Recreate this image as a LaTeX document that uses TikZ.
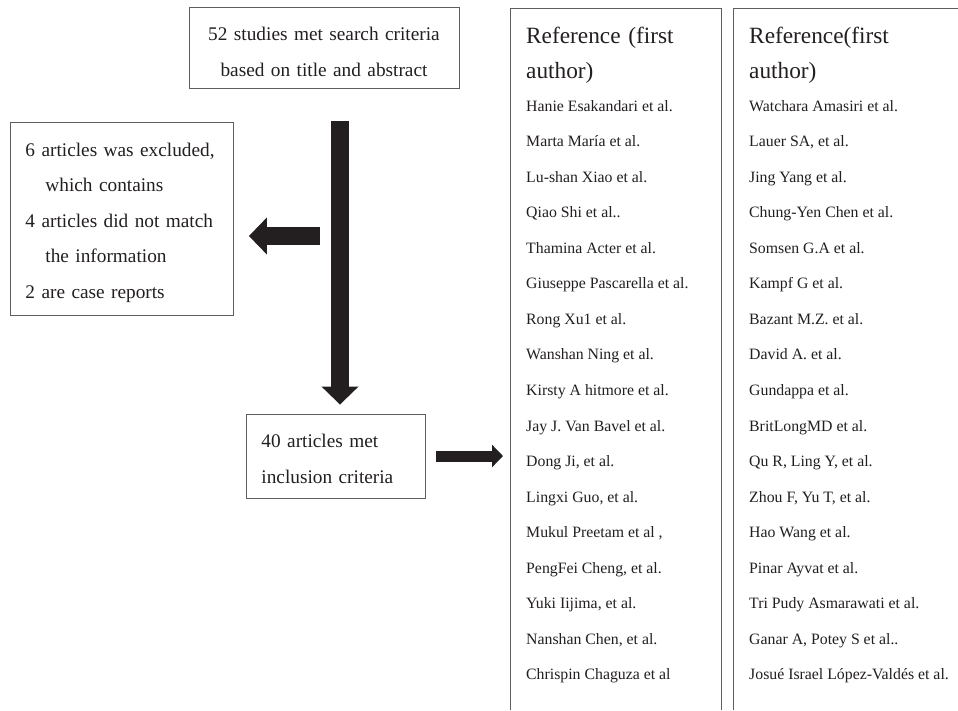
\documentclass[tikz,border=0pt]{standalone}
\usepackage{fontspec}
\setmainfont{Liberation Serif}
\usepackage{tikz}
\usetikzlibrary{arrows.meta}
\definecolor{ink}{HTML}{231F20}
\definecolor{rule}{HTML}{5E5E5E}
\newcommand{\fsz}[2]{\fontsize{#1}{#2}\selectfont}

\begin{document}
\begin{tikzpicture}[x=1pt,y=-1pt,
  box/.style={draw=rule,line width=0.9pt,inner xsep=15pt,inner ysep=0pt,text=ink},
  fatarrow/.style={ink,line width=18pt,-{Triangle[length=18pt,width=36pt]}},
  slimarrow/.style={ink,line width=11pt,-{Triangle[length=11pt,width=22pt]}},
  entry/.style={anchor=base west,inner sep=0pt,text=ink,font=\fsz{15.8}{19}},
  head/.style={entry,text width=190pt,align=left,font=\fsz{23.3}{35}}]
  \useasboundingbox (0,0) rectangle (958,710);
  \fill[white] (0,0) rectangle (958,710);

  % flow boxes
  \node[box,anchor=base,text width=240pt,align=center,text height=33pt,text depth=48pt,
        font=\fsz{19.3}{36}] (search) at (324,40)
        {52 studies met search criteria\\based on title and abstract};
  \node[box,anchor=base west,text width=193pt,align=left,text height=34pt,text depth=159pt,
        font=\fsz{19.3}{35.6}] (excluded) at (10,156)
        {6 articles was excluded,\\\hspace*{20pt}which contains\\4 articles did not match\\
         \hspace*{20pt}the information\\2 are case reports};
  \node[box,anchor=base west,text width=149pt,align=left,text height=33pt,text depth=51pt,
        font=\fsz{19.3}{36}] (included) at (246,447)
        {40 articles met\\inclusion criteria};

  % reference columns, open at the bottom
  \draw[rule,line width=0.9pt] (510,710) |- (721,8) -- (721,710);
  \draw[rule,line width=0.9pt] (733,710) |- (958,8);
  \coordinate (colA) at (510,8);
  \node[head] (headA) at (526,43) {Reference (first\\author)};
  \node[head] (headB) at (749,43) {Reference(first\\author)};
  \foreach \who [count=\i] in {Hanie Esakandari et al., Marta María et al.,
      Lu-shan Xiao et al., Qiao Shi et al.., Thamina Acter et al.,
      Giuseppe Pascarella et al., Rong Xu1 et al., Wanshan Ning et al.,
      Kirsty A hitmore et al., Jay J. Van Bavel et al., {Dong Ji, et al.},
      {Lingxi Guo, et al.}, {Mukul Preetam et al ,}, {PengFei Cheng, et al.},
      {Yuki Iijima, et al.}, {Nanshan Chen, et al.}, Chrispin Chaguza et al}
    \node[entry] (a\i) at (526,{111+35.56*(\i-1)}) {\who};
  \foreach \who [count=\i] in {Watchara Amasiri et al., {Lauer SA, et al.},
      Jing Yang et al., Chung-Yen Chen et al., Somsen G.A et al.,
      Kampf G et al., Bazant M.Z. et al., David A. et al., Gundappa et al.,
      BritLongMD et al., {Qu R, Ling Y, et al.}, {Zhou F, Yu T, et al.},
      Hao Wang et al., Pinar Ayvat et al., Tri Pudy Asmarawati et al.,
      {Ganar A, Potey S et al..}, Josué Israel López-Valdés et al.}
    \node[entry] (b\i) at (749,{111+35.56*(\i-1)}) {\who};

  % block arrows
  \coordinate (split) at (340,121);
  \coordinate (branch) at (320,236);
  \draw[fatarrow,shorten >=9pt] (split) -- (split |- included.north);
  \draw[fatarrow,shorten >=15pt] (branch) -- (branch -| excluded.east);
  \draw[slimarrow,shorten <=10pt,shorten >=7pt] (included.east) -- (included.east -| colA);
\end{tikzpicture}
\end{document}
